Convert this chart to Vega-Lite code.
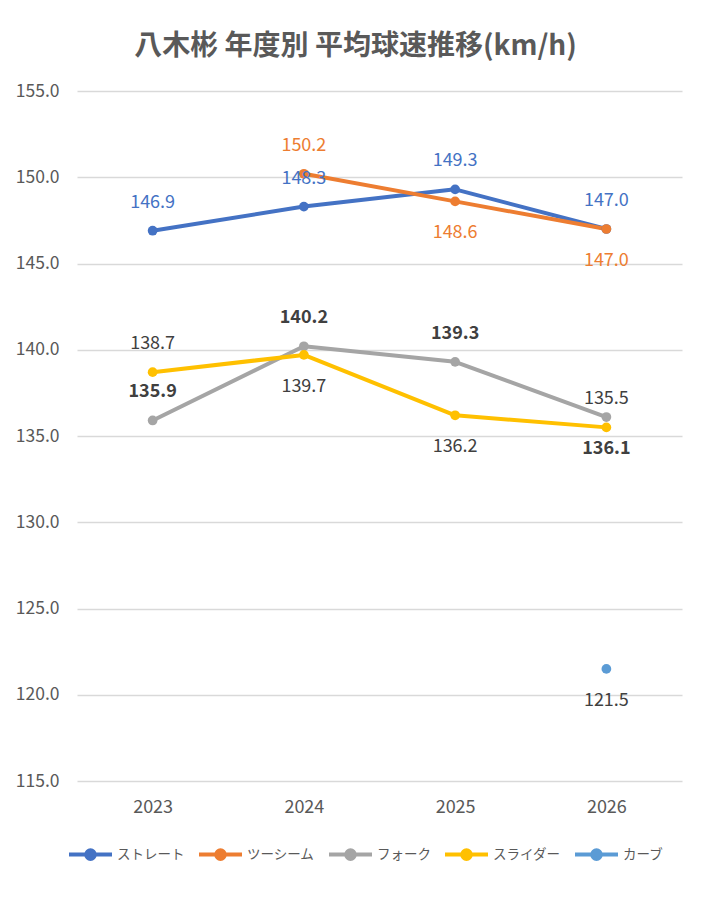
{
  "$schema": "https://vega.github.io/schema/vega-lite/v6.json",
  "width": 605,
  "height": 690,
  "autosize": "none",
  "padding": {"left": 77, "top": 91, "right": 23, "bottom": 122},
  "background": "white",
  "title": {
    "text": "八木彬 年度別 平均球速推移(km/h)",
    "font": "Noto Sans CJK JP",
    "fontSize": 28,
    "fontWeight": "bold",
    "color": "#595959",
    "anchor": "middle",
    "dx": -24,
    "offset": 21
  },
  "data": {
    "values": [
      {"series": "ストレート", "year": "2023", "value": 146.9},
      {"series": "ストレート", "year": "2024", "value": 148.3},
      {"series": "ストレート", "year": "2025", "value": 149.3},
      {"series": "ストレート", "year": "2026", "value": 147.0},
      {"series": "ツーシーム", "year": "2024", "value": 150.2},
      {"series": "ツーシーム", "year": "2025", "value": 148.6},
      {"series": "ツーシーム", "year": "2026", "value": 147.0},
      {"series": "フォーク", "year": "2023", "value": 135.9},
      {"series": "フォーク", "year": "2024", "value": 140.2},
      {"series": "フォーク", "year": "2025", "value": 139.3},
      {"series": "フォーク", "year": "2026", "value": 136.1},
      {"series": "スライダー", "year": "2023", "value": 138.7},
      {"series": "スライダー", "year": "2024", "value": 139.7},
      {"series": "スライダー", "year": "2025", "value": 136.2},
      {"series": "スライダー", "year": "2026", "value": 135.5},
      {"series": "カーブ", "year": "2026", "value": 121.5}
    ]
  },
  "encoding": {
    "x": {
      "field": "year",
      "type": "ordinal",
      "scale": {"type": "point", "padding": 0.5},
      "axis": {
        "title": null,
        "labelAngle": 0,
        "domain": false,
        "ticks": false,
        "labelPadding": 17,
        "labelFontSize": 18,
        "labelColor": "#595959",
        "labelFont": "Noto Sans CJK JP"
      }
    },
    "y": {
      "field": "value",
      "type": "quantitative",
      "scale": {"domain": [115, 155], "nice": false, "zero": false},
      "axis": {
        "title": null,
        "values": [115, 120, 125, 130, 135, 140, 145, 150, 155],
        "format": ".1f",
        "domain": false,
        "ticks": false,
        "labelPadding": 18,
        "labelFontSize": 17.5,
        "labelColor": "#595959",
        "labelFont": "Noto Sans CJK JP",
        "gridColor": "#D9D9D9",
        "gridWidth": 1.3
      }
    }
  },
  "layer": [
    {
      "mark": {"type": "line", "strokeWidth": 4, "strokeCap": "round", "strokeJoin": "round"},
      "encoding": {
        "color": {
          "field": "series",
          "type": "nominal",
          "sort": ["ストレート", "ツーシーム", "フォーク", "スライダー", "カーブ"],
          "scale": {
            "domain": ["ストレート", "ツーシーム", "フォーク", "スライダー", "カーブ"],
            "range": ["#4472C4", "#ED7D31", "#A5A5A5", "#FFC000", "#5B9BD5"]
          },
          "legend": {
            "title": null,
            "orient": "none",
            "direction": "horizontal",
            "legendX": -10,
            "legendY": 740,
            "symbolType": "M-1,0H1M-0.2,0A0.2,0.2 0 1,1 0.2,0A0.2,0.2 0 1,1 -0.2,0Z",
            "symbolSize": 1849,
            "symbolStrokeWidth": 4,
            "labelFont": "Noto Sans CJK JP",
            "labelFontSize": 13.5,
            "labelColor": "#595959",
            "labelOffset": 3,
            "columnPadding": 6,
            "encode": {
              "symbols": {
                "update": {
                  "fill": {"scale": "color", "field": "value"},
                  "stroke": {"scale": "color", "field": "value"},
                  "opacity": {"value": 1}
                }
              }
            }
          }
        }
      }
    },
    {
      "mark": {"type": "circle", "size": 95, "opacity": 1},
      "encoding": {
        "color": {
          "field": "series",
          "type": "nominal",
          "scale": {
            "domain": ["ストレート", "ツーシーム", "フォーク", "スライダー", "カーブ"],
            "range": ["#4472C4", "#ED7D31", "#A5A5A5", "#FFC000", "#5B9BD5"]
          }
        }
      }
    },
    {
      "transform": [
        {"filter": "!((datum.series=='ツーシーム' && datum.year!='2024') || (datum.series=='フォーク' && datum.year=='2026') || (datum.series=='スライダー' && (datum.year=='2024' || datum.year=='2025')) || datum.series=='カーブ') && datum.series!='フォーク'"}
      ],
      "mark": {"type": "text", "font": "Noto Sans CJK JP", "fontSize": 18, "baseline": "middle", "dy": -28},
      "encoding": {
        "text": {"field": "value", "type": "quantitative", "format": ".1f"},
        "color": {
          "condition": [
            {"test": "datum.series=='ストレート'", "value": "#4472C4"},
            {"test": "datum.series=='ツーシーム'", "value": "#ED7D31"}
          ],
          "value": "#404040"
        }
      }
    },
    {
      "transform": [
        {"filter": "((datum.series=='ツーシーム' && datum.year!='2024') || (datum.series=='スライダー' && (datum.year=='2024' || datum.year=='2025')) || datum.series=='カーブ')"}
      ],
      "mark": {"type": "text", "font": "Noto Sans CJK JP", "fontSize": 18, "baseline": "middle", "dy": 32},
      "encoding": {
        "text": {"field": "value", "type": "quantitative", "format": ".1f"},
        "color": {
          "condition": [
            {"test": "datum.series=='ストレート'", "value": "#4472C4"},
            {"test": "datum.series=='ツーシーム'", "value": "#ED7D31"}
          ],
          "value": "#404040"
        }
      }
    },
    {
      "transform": [
        {"filter": "datum.series=='フォーク' && datum.year!='2026'"}
      ],
      "mark": {"type": "text", "font": "Noto Sans CJK JP", "fontSize": 18, "fontWeight": "bold", "baseline": "middle", "dy": -28, "color": "#404040"},
      "encoding": {
        "text": {"field": "value", "type": "quantitative", "format": ".1f"}
      }
    },
    {
      "transform": [
        {"filter": "datum.series=='フォーク' && datum.year=='2026'"}
      ],
      "mark": {"type": "text", "font": "Noto Sans CJK JP", "fontSize": 18, "fontWeight": "bold", "baseline": "middle", "dy": 32, "color": "#404040"},
      "encoding": {
        "text": {"field": "value", "type": "quantitative", "format": ".1f"}
      }
    }
  ],
  "config": {
    "view": {"stroke": null}
  }
}
